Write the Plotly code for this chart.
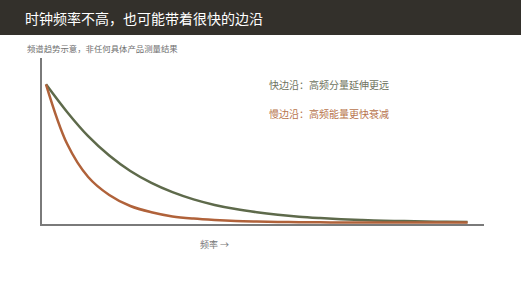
import plotly.graph_objects as go

freq = [0, 0.5, 1, 1.5, 2, 2.5, 3, 3.5, 4, 4.5, 5, 5.5, 6, 6.5, 7, 7.5, 8, 8.5, 9, 9.5, 10]
fast_edge = [1.00, 0.80, 0.625, 0.485, 0.373, 0.287, 0.220, 0.168, 0.128, 0.098, 0.075, 0.057,
             0.043, 0.033, 0.025, 0.019, 0.014, 0.011, 0.008, 0.006, 0.004]
slow_edge = [1.00, 0.57, 0.33, 0.20, 0.12, 0.075, 0.045, 0.029, 0.019, 0.012, 0.008, 0.005,
             0.003, 0.002, 0.0013, 0.0009, 0.0006, 0.0004, 0.0002, 0.0001, 0.0]

title = "时钟频率不高，也可能带着很快的边沿"
subtitle = "频谱趋势示意，非任何具体产品测量结果"
label_fast = "快边沿：高频分量延伸更远"
label_slow = "慢边沿：高频能量更快衰减"
x_label = "频率 →"

FONT = "Noto Sans CJK SC, Noto Sans, sans-serif"
W, H = 521, 293
L, R, T, B = 42, 37, 58, 69
PW, PH = W - L - R, H - T - B

def px(x):
    return (x - L) / PW

def py(y):
    return (H - B - y) / PH

fig = go.Figure()
fig.add_trace(go.Scatter(x=freq, y=fast_edge, mode="lines", line=dict(color="#5e6a4b", width=2.5, shape="spline"),
                         hoverinfo="skip"))
fig.add_trace(go.Scatter(x=freq, y=slow_edge, mode="lines", line=dict(color="#b0623a", width=2.5, shape="spline"),
                         hoverinfo="skip"))

fig.update_layout(
    width=W, height=H, margin=dict(l=L, r=R, t=T, b=B),
    paper_bgcolor="white", plot_bgcolor="white", showlegend=False,
    font=dict(family=FONT),
    xaxis=dict(range=[-0.095, 10.39], showgrid=False, zeroline=False, showticklabels=False,
               showline=True, linecolor="#7a7a7a", linewidth=1.5, ticks=""),
    yaxis=dict(range=[-0.01, 1.19], showgrid=False, zeroline=False, showticklabels=False,
               showline=True, linecolor="#7a7a7a", linewidth=1.5, ticks=""),
    shapes=[dict(type="rect", xref="paper", yref="paper", x0=px(0), x1=px(W), y0=py(35), y1=py(0),
                 fillcolor="#33302b", line=dict(width=0), layer="below")],
    annotations=[
        dict(text=title, xref="paper", yref="paper", x=px(23), y=py(17.5), xanchor="left", yanchor="middle",
             showarrow=False, font=dict(size=14, color="white", family=FONT)),
        dict(text=subtitle, xref="paper", yref="paper", x=px(25), y=py(47.5), xanchor="left", yanchor="middle",
             showarrow=False, font=dict(size=8.4, color="#6e6e6e", family=FONT)),
        dict(text=label_fast, xref="paper", yref="paper", x=px(267), y=py(84), xanchor="left", yanchor="middle",
             showarrow=False, font=dict(size=10, color="#6e735e", family=FONT)),
        dict(text=label_slow, xref="paper", yref="paper", x=px(267), y=py(113), xanchor="left", yanchor="middle",
             showarrow=False, font=dict(size=10, color="#b8744c", family=FONT)),
        dict(text=x_label, xref="paper", yref="paper", x=px(198), y=py(244), xanchor="left", yanchor="middle",
             showarrow=False, font=dict(size=9, color="#777777", family=FONT)),
    ],
)

fig.write_html("out.html")
